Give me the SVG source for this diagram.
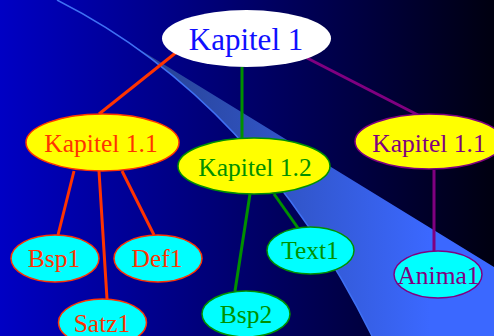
<svg xmlns="http://www.w3.org/2000/svg" width="494" height="336" viewBox="0 0 494 336">
<defs>
<linearGradient id="bg" x1="0" y1="0" x2="494" y2="0" gradientUnits="userSpaceOnUse">
<stop offset="0" stop-color="#0000c4"/>
<stop offset="1" stop-color="#000010"/>
</linearGradient>
<linearGradient id="band" x1="130" y1="0" x2="430" y2="0" gradientUnits="userSpaceOnUse">
<stop offset="0" stop-color="#26408c"/>
<stop offset="1" stop-color="#3b68ff"/>
</linearGradient>
<style>
text{text-anchor:middle}
.c{stroke-width:3;fill:none}
.r{stroke:#ff3300}.g{stroke:#009000}.p{stroke:#800080}
.y{fill:#ffff00;stroke-width:1.5}
.cy{fill:#00ffff;stroke-width:1.5}
.tr{fill:#ff3300}.tg{fill:#009000}.tp{fill:#800080}
</style>
</defs>
<rect width="494" height="336" fill="url(#bg)"/>
<path d="M133,45.4 Q278.4,147.2 372,336 L494,336 L494,267 Z" fill="url(#band)"/>
<path d="M57,0 Q255,100 372,336" fill="none" stroke="#3f70f4" stroke-width="1.5"/>
<g id="connectors">
<line class="c r" x1="178" y1="51" x2="99" y2="114"/>
<line class="c g" x1="242" y1="67" x2="242" y2="139"/>
<line class="c p" x1="307" y1="58" x2="418" y2="115"/>
<line class="c r" x1="74" y1="171" x2="58" y2="235"/>
<line class="c r" x1="99" y1="171" x2="107" y2="299"/>
<line class="c r" x1="122" y1="171" x2="154" y2="235"/>
<line class="c g" x1="250" y1="194" x2="235" y2="291"/>
<line class="c g" x1="274" y1="194" x2="298" y2="228"/>
<line class="c p" x1="434" y1="170" x2="434" y2="251"/>
</g>
<g font-family="Liberation Serif, DejaVu Serif, serif">
<g id="k1">
<ellipse cx="246.5" cy="38.5" rx="84.5" ry="28.5" fill="#ffffff"/>
<text x="246" y="50" font-size="31" fill="#1010ff">Kapitel 1</text>
</g>
<g id="k11a">
<ellipse class="y r" cx="102.5" cy="142.5" rx="76.5" ry="28.5"/>
<text class="tr" x="101" y="152" font-size="25.5">Kapitel 1.1</text>
</g>
<g id="k12">
<ellipse class="y g" cx="254" cy="166" rx="76" ry="28"/>
<text class="tg" x="255" y="176" font-size="25.5">Kapitel 1.2</text>
</g>
<g id="k11b">
<ellipse class="y p" cx="429" cy="141.5" rx="74" ry="27.5"/>
<text class="tp" x="429" y="152" font-size="25.5">Kapitel 1.1</text>
</g>
<g id="bsp1">
<ellipse class="cy r" cx="55" cy="258.5" rx="44" ry="23.5"/>
<text class="tr" x="54" y="267" font-size="25.5">Bsp1</text>
</g>
<g id="def1">
<ellipse class="cy r" cx="158" cy="258.5" rx="44" ry="23.5"/>
<text class="tr" x="157" y="267" font-size="25.5">Def1</text>
</g>
<g id="satz1">
<ellipse class="cy r" cx="102.5" cy="322.5" rx="44" ry="23.5"/>
<text class="tr" x="102" y="332" font-size="25.5">Satz1</text>
</g>
<g id="bsp2">
<ellipse class="cy g" cx="246" cy="314" rx="44" ry="23"/>
<text class="tg" x="246" y="323" font-size="25.5">Bsp2</text>
</g>
<g id="text1">
<ellipse class="cy g" cx="310.5" cy="250.5" rx="43.5" ry="23.5"/>
<text class="tg" x="310" y="259" font-size="25.5">Text1</text>
</g>
<g id="anima1">
<ellipse class="cy p" cx="438" cy="274.5" rx="44" ry="23.5"/>
<text class="tp" x="438.5" y="284" font-size="25.5">Anima1</text>
</g>
</g>
</svg>
